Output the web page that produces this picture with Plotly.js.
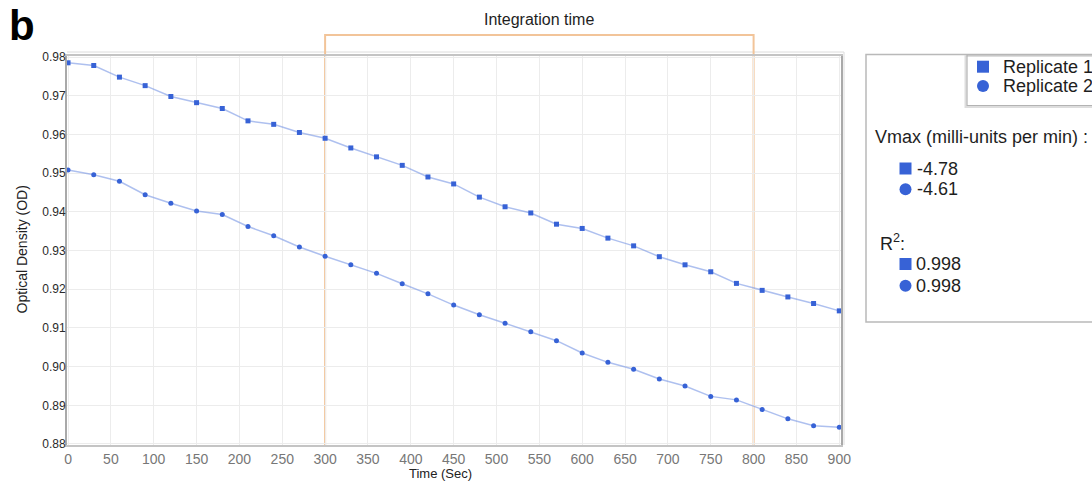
<!DOCTYPE html>
<html>
<head>
<meta charset="utf-8">
<script src="https://cdn.plot.ly/plotly-3.0.1.min.js"></script>
<style>
  html, body { margin: 0; padding: 0; background: #ffffff; }
  #chart { width: 1092px; height: 483px; }
</style>
</head>
<body>
<div id="chart"></div>
<script>
// Kinetic read: optical density sampled every 30 s for two replicates
const timeSec = [0, 30, 60, 90, 120, 150, 180, 210, 240, 270, 300, 330, 360, 390, 420, 450,
                 480, 510, 540, 570, 600, 630, 660, 690, 720, 750, 780, 810, 840, 870, 900];

const replicate1OD = [0.9785, 0.9778, 0.9748, 0.9726, 0.9698, 0.9682, 0.9667, 0.9635, 0.9626, 0.9605,
                      0.9590, 0.9565, 0.9542, 0.9520, 0.9490, 0.9472, 0.9438, 0.9413, 0.9397, 0.9368,
                      0.9357, 0.9332, 0.9312, 0.9284, 0.9263, 0.9245, 0.9215, 0.9197, 0.9180, 0.9163,
                      0.9144];

const replicate2OD = [0.9508, 0.9496, 0.9479, 0.9444, 0.9422, 0.9402, 0.9393, 0.9362, 0.9338, 0.9309,
                      0.9285, 0.9263, 0.9241, 0.9214, 0.9188, 0.9159, 0.9134, 0.9112, 0.9090, 0.9067,
                      0.9035, 0.9011, 0.8993, 0.8968, 0.8950, 0.8923, 0.8914, 0.8889, 0.8865, 0.8847,
                      0.8843];

const seriesNames = ['Replicate 1', 'Replicate 2'];
const vmaxValues = [-4.78, -4.61];      // milli-units per min
const r2Values = [0.998, 0.998];
const integrationWindow = [300, 800];   // seconds

const xTickValues = [0, 50, 100, 150, 200, 250, 300, 350, 400, 450, 500, 550, 600, 650, 700, 750, 800, 850, 900];
const yTickValues = [0.88, 0.89, 0.90, 0.91, 0.92, 0.93, 0.94, 0.95, 0.96, 0.97, 0.98];

// ---- page geometry ----
const W = 1092, H = 483;
const M = { l: 67, r: 251, t: 56, b: 38 };
const PW = W - M.l - M.r, PH = H - M.t - M.b;
const px = x => (x - M.l) / PW;          // pixel column -> paper x
const py = y => (H - M.b - y) / PH;      // pixel row -> paper y

const FONT = 'Liberation Sans, Arial, Helvetica, sans-serif';
const BLUE = '#3762d6';
const LINE = 'rgba(120,150,228,0.6)';
const ORANGE = '#f2c499';

const traces = [
  {
    x: timeSec, y: replicate1OD, name: seriesNames[0], type: 'scatter', mode: 'lines+markers',
    line: { color: LINE, width: 1.5 },
    marker: { symbol: 'square', size: 5, color: BLUE },
    showlegend: false, hoverinfo: 'x+y'
  },
  {
    x: timeSec, y: replicate2OD, name: seriesNames[1], type: 'scatter', mode: 'lines+markers',
    line: { color: LINE, width: 1.5 },
    marker: { symbol: 'circle', size: 5, color: BLUE },
    showlegend: false, hoverinfo: 'x+y'
  }
];

// helpers for the side panel
function textAt(x, y, text, size, extra) {
  return Object.assign({
    xref: 'paper', yref: 'paper', x: px(x), y: py(y),
    xanchor: 'left', yanchor: 'middle', showarrow: false, borderpad: 0,
    text: text, font: { family: FONT, size: size, color: '#1e1e1e' }
  }, extra || {});
}
function squareAt(cx, cy, s) {
  return { type: 'rect', xref: 'paper', yref: 'paper',
    x0: px(cx - s / 2), x1: px(cx + s / 2), y0: py(cy + s / 2), y1: py(cy - s / 2),
    fillcolor: BLUE, line: { width: 0 } };
}
function dotAt(cx, cy, s) {
  return { type: 'circle', xref: 'paper', yref: 'paper',
    x0: px(cx - s / 2), x1: px(cx + s / 2), y0: py(cy + s / 2), y1: py(cy - s / 2),
    fillcolor: BLUE, line: { width: 0 } };
}
const markerShapes = [squareAt, dotAt];

const boxTop = py(35);
const shapes = [
  // outer chart-area frame (top and right edges)
  { type: 'path', xref: 'paper', yref: 'paper',
    path: `M 0,${py(52)} L ${px(844)},${py(52)} L ${px(844)},0`,
    line: { color: '#dcdcdc', width: 1 }, layer: 'below' },
  // integration window bracket
  { type: 'path', xref: 'x', yref: 'paper',
    path: `M ${integrationWindow[0]},0 L ${integrationWindow[0]},${boxTop} L ${integrationWindow[1]},${boxTop} L ${integrationWindow[1]},0`,
    line: { color: ORANGE, width: 2 }, layer: 'between' },
  // side panel frame
  { type: 'rect', xref: 'paper', yref: 'paper',
    x0: px(866), x1: px(1110), y0: py(322), y1: py(54.5),
    line: { color: '#b9b9b9', width: 1.5 }, fillcolor: 'rgba(0,0,0,0)' },
  // legend box: soft drop shadow, then the frame
  { type: 'rect', xref: 'paper', yref: 'paper',
    x0: px(965.5), x1: px(1110), y0: py(107), y1: py(56),
    line: { color: '#dddddd', width: 2 }, fillcolor: 'rgba(0,0,0,0)' },
  { type: 'rect', xref: 'paper', yref: 'paper',
    x0: px(967), x1: px(1110), y0: py(105.5), y1: py(55),
    line: { color: '#b3b3b3', width: 1.2 }, fillcolor: 'rgba(0,0,0,0)' }
];

const annotations = [
  textAt(8, 25.5, '<b>b</b>', 42, { font: { family: FONT, size: 42, color: '#000000' } }),
  { xref: 'x', yref: 'paper', x: (integrationWindow[0] + integrationWindow[1]) / 2, y: py(20),
    xanchor: 'center', yanchor: 'middle', showarrow: false,
    text: 'Integration time', font: { family: FONT, size: 16, color: '#1e1e1e' } },
  { xref: 'paper', yref: 'paper', x: px(21.5), y: py(250), textangle: -90,
    xanchor: 'center', yanchor: 'middle', showarrow: false,
    text: 'Optical Density (OD)', font: { family: FONT, size: 14, color: '#222222' } },
  { xref: 'paper', yref: 'paper', x: px(440), y: py(473.5),
    xanchor: 'center', yanchor: 'middle', showarrow: false,
    text: 'Time (Sec)', font: { family: FONT, size: 13, color: '#222222' } },
  textAt(874, 136.7, 'Vmax (milli-units per min) :', 18),
  textAt(878.5, 242.7, 'R<sup>2</sup>:', 18)
];

// legend entries and per-replicate values
const legendRows = [66.7, 86];
const vmaxRows = [168.5, 189.3];
const r2Rows = [264, 285.7];
seriesNames.forEach((name, i) => {
  shapes.push(markerShapes[i](983, legendRows[i], 12));
  annotations.push(textAt(1002, legendRows[i], name, 18));
  shapes.push(markerShapes[i](905.5, vmaxRows[i], 12));
  annotations.push(textAt(916, vmaxRows[i], vmaxValues[i].toFixed(2), 18));
  shapes.push(markerShapes[i](905.5, r2Rows[i], 12));
  annotations.push(textAt(915, r2Rows[i], r2Values[i].toFixed(3), 18));
});

const layout = {
  width: W, height: H,
  margin: { l: M.l, r: M.r, t: M.t, b: M.b, autoexpand: false },
  paper_bgcolor: '#ffffff', plot_bgcolor: 'rgba(0,0,0,0)',
  font: { family: FONT, color: '#222222' },
  showlegend: false,
  xaxis: {
    range: [-1.2, 902], tickvals: xTickValues, ticktext: xTickValues.map(String),
    showgrid: true, gridcolor: '#ececec', gridwidth: 1, zeroline: false,
    showline: true, linecolor: '#c4c4c4', linewidth: 2, mirror: true,
    ticks: '', tickfont: { family: FONT, size: 14, color: '#777777' }
  },
  yaxis: {
    range: [0.87974, 0.98026], tickvals: yTickValues, ticktext: yTickValues.map(v => v.toFixed(2)),
    showgrid: true, gridcolor: '#ececec', gridwidth: 1, zeroline: false,
    showline: true, linecolor: '#a9a9a9', linewidth: 2, mirror: true,
    ticks: '', ticklabelstandoff: -3,
    tickfont: { family: FONT, size: 12, color: '#2a2a2a' }
  },
  shapes: shapes,
  annotations: annotations
};

Plotly.newPlot('chart', traces, layout, { displayModeBar: false, staticPlot: true });
</script>
</body>
</html>
